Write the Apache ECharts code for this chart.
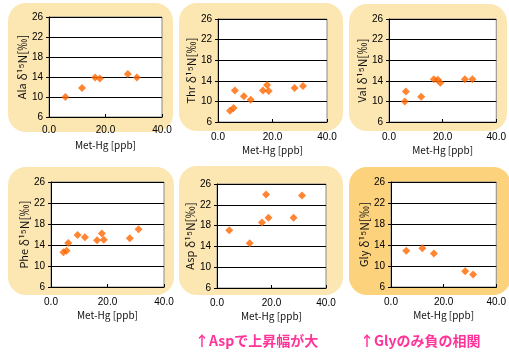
<!DOCTYPE html>
<html>
<head>
<meta charset="utf-8">
<script src="https://cdn.jsdelivr.net/npm/echarts@6/dist/echarts.min.js"></script>
<style>
  html, body { margin: 0; padding: 0; background: #ffffff; }
  #chart { width: 509px; height: 353px; }
</style>
</head>
<body>
<div id="chart"></div>
<script>
// Amino-acid δ15N plotted against methyl-mercury concentration, one panel per amino acid.
const aminoAcids = ['Ala', 'Thr', 'Val', 'Phe', 'Asp', 'Gly'];

// [Met-Hg (ppb), δ15N (‰)]
const alaPoints = [[5.8, 10.0], [11.7, 11.8], [16.3, 13.9], [18.0, 13.7], [27.9, 14.6], [31.1, 13.9]];
const thrPoints = [[4.4, 8.2], [5.7, 8.7], [6.2, 12.1], [9.5, 11.0], [12.0, 10.3], [16.5, 12.1], [18.0, 13.2], [18.6, 12.0], [28.1, 12.6], [31.2, 13.0]];
const valPoints = [[5.9, 10.0], [6.3, 11.9], [12.0, 10.9], [16.7, 14.3], [18.2, 14.2], [19.1, 13.6], [28.3, 14.3], [31.1, 14.3]];
const phePoints = [[4.4, 12.6], [5.5, 12.9], [6.1, 14.4], [9.4, 15.9], [12.0, 15.5], [16.3, 14.9], [18.0, 16.2], [18.7, 15.0], [27.9, 15.3], [31.0, 17.0]];
const aspPoints = [[4.5, 17.1], [12.0, 14.6], [16.5, 18.6], [18.0, 24.0], [18.9, 19.5], [28.1, 19.5], [31.2, 23.8]];
const glyPoints = [[5.8, 12.9], [11.9, 13.4], [16.3, 12.4], [28.2, 9.0], [31.2, 8.4]];

// Axis ranges and tick steps
const xRange = [0, 40];
const xStep = 20;
const yRange = [6, 26];
const yStep = 4;

const xTitle = 'Met-Hg [ppb]';
const notes = ['↑Aspで上昇幅が大', '↑Glyのみ負の相関'];

const allPoints = [alaPoints, thrPoints, valPoints, phePoints, aspPoints, glyPoints];

// Panel geometry: plot rectangle and the rounded card behind it
const plots = [
  { left: 49,  top: 17,  width: 113, height: 100 },
  { left: 218, top: 19,  width: 109, height: 103 },
  { left: 389, top: 19,  width: 109, height: 103 },
  { left: 51,  top: 182, width: 113, height: 105 },
  { left: 217, top: 184, width: 109, height: 104 },
  { left: 391, top: 182, width: 112, height: 105 }
];
const cards = [
  { x: 8,   y: 3,   w: 165, h: 129, fill: '#fce6b2' },
  { x: 179, y: 3,   w: 164, h: 128, fill: '#fce6b2' },
  { x: 349, y: 4,   w: 158, h: 127, fill: '#fce6b2' },
  { x: 8,   y: 167, w: 166, h: 128, fill: '#fce6b2' },
  { x: 179, y: 166, w: 164, h: 129, fill: '#fce6b2' },
  { x: 349, y: 167, w: 162, h: 128, fill: '#fcd37c' }
];

const labelFont = 'Liberation Sans, Arial, sans-serif';
const jpFont = '"Noto Sans CJK JP", sans-serif';

const chart = echarts.init(document.getElementById('chart'), null, { renderer: 'canvas' });

const grids = [], xAxes = [], yAxes = [], series = [];
aminoAcids.forEach((aa, i) => {
  const p = plots[i];
  grids.push({
    left: p.left, top: p.top, width: p.width, height: p.height,
    show: true, backgroundColor: '#ffffff', borderColor: '#8a8a8a', borderWidth: 1,
    z: 1
  });
  xAxes.push({
    gridIndex: i, type: 'value', min: xRange[0], max: xRange[1], interval: xStep,
    z: 3,
    name: xTitle, nameLocation: 'middle', nameGap: 23,
    nameTextStyle: { fontFamily: jpFont, fontSize: 10, color: '#111' },
    axisLine: { show: true, lineStyle: { color: '#000', width: 1 } },
    axisTick: { show: true, inside: true, length: 3, lineStyle: { color: '#000' } },
    axisLabel: {
      fontFamily: labelFont, fontSize: 10, color: '#000', margin: i === 0 ? 8 : 10,
      formatter: v => v.toFixed(1)
    },
    splitLine: { show: false }
  });
  yAxes.push({
    gridIndex: i, type: 'value', min: yRange[0], max: yRange[1], interval: yStep,
    z: 3,
    name: '{a|' + aa + '}{b| δ¹⁵N[‰]}', nameLocation: 'middle', nameGap: 20, nameRotate: 90,
    nameTextStyle: {
      fontFamily: jpFont, color: '#111',
      rich: {
        a: { fontFamily: jpFont, fontSize: 11, color: '#111' },
        b: { fontFamily: jpFont, fontSize: 12, color: '#111' }
      }
    },
    axisLine: { show: true, lineStyle: { color: '#000', width: 1 } },
    axisTick: { show: true, length: 3, lineStyle: { color: '#000' } },
    axisLabel: { fontFamily: labelFont, fontSize: 10, color: '#000', margin: 6 },
    splitLine: { show: true, lineStyle: { color: '#000', width: 1 } }
  });
  series.push({
    type: 'scatter', xAxisIndex: i, yAxisIndex: i,
    data: allPoints[i],
    symbol: 'diamond', symbolSize: 8,
    itemStyle: { color: '#ff6600' },
    z: 5
  });
});

const graphics = cards.map(c => ({
  type: 'rect', silent: true,
  shape: { x: c.x, y: c.y, width: c.w, height: c.h, r: 18 },
  style: { fill: c.fill }
}));
graphics.push(
  { type: 'text', left: 195, top: 334, silent: true,
    style: { text: notes[0], fill: '#ff3399', font: 'bold 14px "Noto Sans CJK JP", sans-serif' } },
  { type: 'text', left: 360, top: 334, silent: true,
    style: { text: notes[1], fill: '#ff3399', font: 'bold 14px "Noto Sans CJK JP", sans-serif' } }
);

chart.setOption({
  backgroundColor: '#ffffff',
  animation: false,
  graphic: { z: -5, elements: graphics },
  grid: grids,
  xAxis: xAxes,
  yAxis: yAxes,
  series: series
});
</script>
</body>
</html>
